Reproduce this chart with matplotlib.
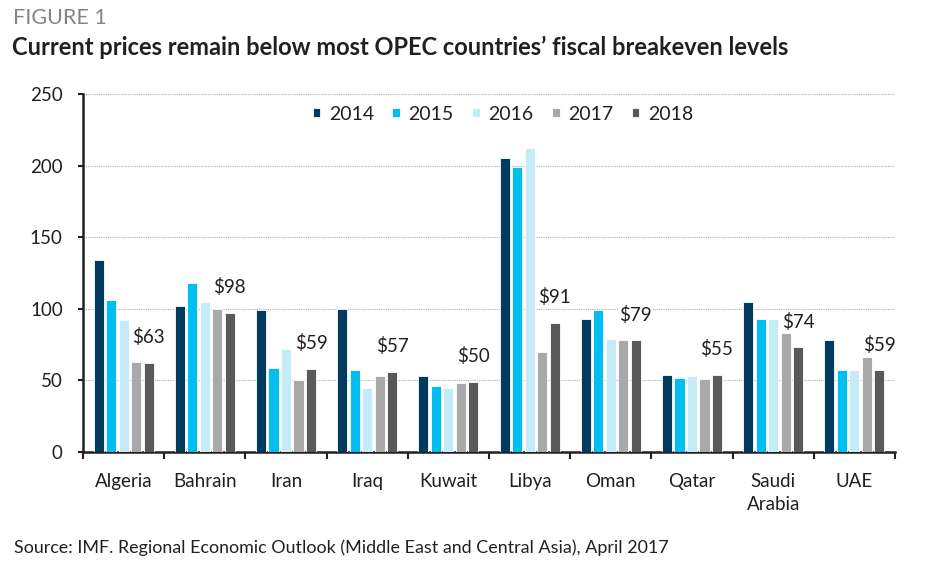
import matplotlib
matplotlib.use("Agg")
import matplotlib.pyplot as plt
import numpy as np

countries = ["Algeria", "Bahrain", "Iran", "Iraq", "Kuwait", "Libya", "Oman", "Qatar", "Saudi\nArabia", "UAE"]
years = ["2014", "2015", "2016", "2017", "2018"]
v2014 = [134, 102, 99, 100, 53, 205, 93, 54, 105, 78]
v2015 = [106, 118, 59, 57, 46, 199, 99, 52, 93, 57]
v2016 = [92, 105, 72, 45, 45, 212, 79, 53, 93, 57]
v2017 = [63, 100, 50, 53, 48, 70, 78, 51, 83, 66]
v2018 = [62, 97, 58, 56, 49, 90, 78, 54, 73, 57]
labels_2018 = ["$63", "$98", "$59", "$57", "$50", "$91", "$79", "$55", "$74", "$59"]
colors = ["#003A5D", "#00BEF0", "#C5EBF9", "#A9A9A9", "#58595B"]

plt.rcParams['font.family'] = ['Lato', 'DejaVu Sans']
text_color = "#231F20"

fig = plt.figure(figsize=(9.31, 5.71), dpi=100)
ax = fig.add_axes([0.0892, 0.2084, 0.8721, 0.627])

series = [v2014, v2015, v2016, v2017, v2018]
n = len(countries)
x = np.arange(n) + 0.5
pitch = 0.154
width = 0.125
for i, (vals, c, yr) in enumerate(zip(series, colors, years)):
    ax.bar(x + (i - 2) * pitch, vals, width=width, color=c, label=yr, zorder=3,
           edgecolor="white", linewidth=0.6)

for xi, v, lab in zip(x, v2018, labels_2018):
    ax.text(xi + 2 * pitch, v + 18, lab, ha="center", va="center", fontsize=13.5,
            color=text_color, zorder=4,
            bbox=dict(facecolor="white", edgecolor="none", pad=1))

ax.set_xlim(0, n)
ax.set_ylim(0, 250)
ax.set_yticks([0, 50, 100, 150, 200, 250])
ax.yaxis.grid(True, linestyle=(0, (1, 1)), color="#B0B0B0", linewidth=0.8, zorder=0)
ax.set_axisbelow(True)

ax.set_xticks(np.arange(n + 1))
ax.set_xticklabels([])
ax.set_xticks(x, minor=True)
ax.set_xticklabels(countries, minor=True, fontsize=13.5, color=text_color, va="top", linespacing=1.45)
ax.tick_params(axis="x", which="major", length=5, width=1.5, direction="out", color="#231F20")
ax.tick_params(axis="x", which="minor", length=0, pad=15)
ax.tick_params(axis="y", length=3.6, width=1.5, labelsize=13.5, labelcolor=text_color, pad=11, color="#231F20")

for s in ["top", "right"]:
    ax.spines[s].set_visible(False)
for s in ["left", "bottom"]:
    ax.spines[s].set_linewidth(1.8)
    ax.spines[s].set_color("#231F20")

leg = ax.legend(loc="center", bbox_to_anchor=(0.517, 0.944), ncol=5, frameon=False,
                fontsize=14, handlelength=0.4, handleheight=0.4, handletextpad=0.43,
                columnspacing=0.95, borderpad=0)
for t in leg.get_texts():
    t.set_color(text_color)

fig.text(0.014, 0.958, "FIGURE 1", fontsize=15.5, color="#858585", ha="left", va="baseline")
fig.text(0.013, 0.904, "Current prices remain below most OPEC countries\u2019 fiscal breakeven levels",
         fontsize=17, color=text_color, ha="left", va="baseline", fontweight="bold")
fig.text(0.015, 0.04, "Source: IMF. Regional Economic Outlook (Middle East and Central Asia), April 2017",
         fontsize=12.9, color=text_color, ha="left", va="center")

fig.savefig("out.png", dpi=100)
